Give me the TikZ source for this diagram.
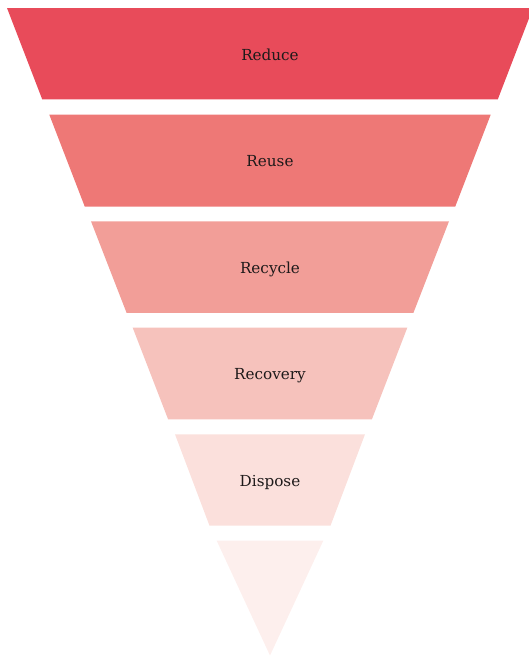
\documentclass[tikz,border=0pt]{standalone}
\usepackage{fontspec}
\setmainfont{DejaVu Serif}
\definecolor{cA}{HTML}{E84B5A}
\definecolor{cB}{HTML}{EE7876}
\definecolor{cC}{HTML}{F29E98}
\definecolor{cD}{HTML}{F6C2BC}
\definecolor{cE}{HTML}{FBE0DC}
\definecolor{cF}{HTML}{FDEFED}
\definecolor{txt}{HTML}{1E1A1A}
\begin{document}
\begin{tikzpicture}[x=1pt,y=-1pt,
  band/.style={draw=none},
  lbl/.style={text=txt,font=\fontsize{15.2}{18}\selectfont,inner sep=0pt,anchor=base}]
\useasboundingbox (0,0) rectangle (529,656);
\begin{scope}
\clip (0,0) rectangle (529,656);
\fill[cA] (7,8) -- (533,8) -- (497.8,99.3) -- (42.2,99.3) -- cycle;
\fill[cB] (49.3,114.7) -- (490.7,114.7) -- (455.2,206.7) -- (84.8,206.7) -- cycle;
\fill[cC] (91,221.3) -- (449,221.3) -- (413.4,312.9) -- (126.6,312.9) -- cycle;
\fill[cD] (132.7,327.7) -- (407.3,327.7) -- (371.9,419.3) -- (168.1,419.3) -- cycle;
\fill[cE] (175,434.3) -- (365,434.3) -- (330.5,525.7) -- (209.5,525.7) -- cycle;
\fill[cF] (216.7,540.7) -- (323.3,540.7) -- (270,655.5) -- cycle;
\end{scope}
\node[lbl] (l1) at (270,60) {Reduce};
\node[lbl] (l2) at (270,166.8) {Reuse};
\node[lbl] (l3) at (270,273.2) {Recycle};
\node[lbl] (l4) at (270,379.6) {Recovery};
\node[lbl] (l5) at (270,486) {Dispose};
\end{tikzpicture}
\end{document}
